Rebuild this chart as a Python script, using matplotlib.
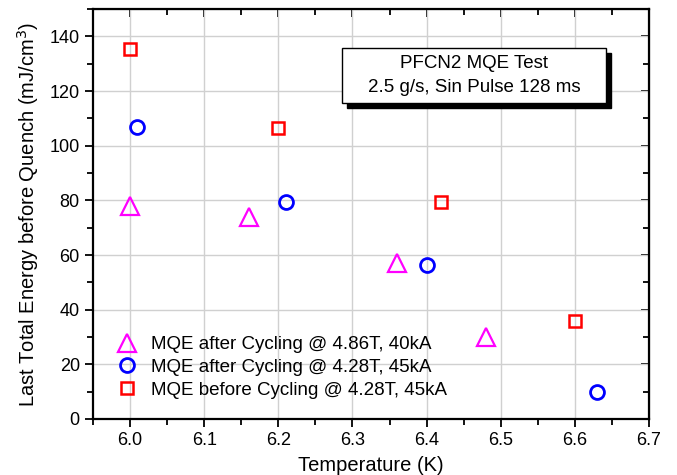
import matplotlib
matplotlib.use("Agg")
import matplotlib.pyplot as plt
from matplotlib.ticker import MultipleLocator
from matplotlib.patches import Rectangle

plt.rcParams['font.family'] = ['Liberation Sans', 'DejaVu Sans']

# Data
t_after_486 = [6.00, 6.16, 6.36, 6.48]
e_after_486 = [78, 74, 57, 30]
t_after_428 = [6.01, 6.21, 6.40, 6.63]
e_after_428 = [107, 79.5, 56.5, 10]
t_before_428 = [6.00, 6.20, 6.42, 6.60]
e_before_428 = [135.5, 106.5, 79.5, 36]

labels = ["MQE after Cycling @ 4.86T, 40kA",
          "MQE after Cycling @ 4.28T, 45kA",
          "MQE before Cycling @ 4.28T, 45kA"]
xticks = [6.0, 6.1, 6.2, 6.3, 6.4, 6.5, 6.6, 6.7]
xticklabels = ["6.0", "6.1", "6.2", "6.3", "6.4", "6.5", "6.6", "6.7"]
yticks = [0, 20, 40, 60, 80, 100, 120, 140]

fig = plt.figure(figsize=(6.77, 4.75), dpi=100)
ax = fig.add_axes([0.1374, 0.1179, 0.9586 - 0.1374, 0.981 - 0.1179])

ax.plot(t_after_486, e_after_486, linestyle='none', marker='^', ms=13,
        mfc='none', mec='#ff00ff', mew=1.6, label=labels[0])
ax.plot(t_after_428, e_after_428, linestyle='none', marker='o', ms=10,
        mfc='none', mec='#0000ff', mew=2.0, label=labels[1])
ax.plot(t_before_428, e_before_428, linestyle='none', marker='s', ms=9,
        mfc='none', mec='#ff0000', mew=1.8, label=labels[2])

ax.set_xlim(5.95, 6.7)
ax.set_ylim(0, 150)
ax.set_xticks(xticks)
ax.set_xticklabels(xticklabels)
ax.xaxis.set_minor_locator(MultipleLocator(0.05))
ax.set_yticks(yticks)
ax.yaxis.set_minor_locator(MultipleLocator(10))

ax.grid(True, which='major', color='#d0d0d0', linewidth=1.0)
ax.set_axisbelow(True)

for s in ax.spines.values():
    s.set_linewidth(1.6)
    s.set_color('black')

ax.tick_params(which='both', direction='out', labelsize=13, width=1.3)
ax.tick_params(which='major', length=6)
ax.tick_params(which='minor', length=4)

# inward ticks on top and right, no labels
axt = ax.secondary_xaxis('top')
axt.set_xticks(xticks)
axt.xaxis.set_minor_locator(MultipleLocator(0.05))
axt.tick_params(which='both', direction='in', labeltop=False, width=1.3)
axt.tick_params(which='major', length=6)
axt.tick_params(which='minor', length=4)
axr = ax.secondary_yaxis('right')
axr.set_yticks(yticks)
axr.yaxis.set_minor_locator(MultipleLocator(10))
axr.tick_params(which='both', direction='in', labelright=False, width=1.3)
axr.tick_params(which='major', length=6)
axr.tick_params(which='minor', length=4)

ax.set_xlabel("Temperature (K)", fontsize=14.5, labelpad=5)
ax.set_ylabel("Last Total Energy before Quench (mJ/cm$^3$)", fontsize=14.5, labelpad=6)

leg = ax.legend(loc='lower left', bbox_to_anchor=(0.0, -0.01), frameon=False,
                fontsize=13.5, handlelength=1.0, handletextpad=0.8,
                labelspacing=0.3, borderaxespad=0.5, borderpad=0.8)

# text box with shadow
bx0, by0, bx1, by1 = 342, 48, 606, 103
W, H = 677, 475
shadow = Rectangle(((bx0 + 5) / W, 1 - (by1 + 5) / H), (bx1 - bx0) / W, (by1 - by0) / H,
                   transform=fig.transFigure, facecolor='black', edgecolor='black', zorder=10)
box = Rectangle((bx0 / W, 1 - by1 / H), (bx1 - bx0) / W, (by1 - by0) / H,
                transform=fig.transFigure, facecolor='white', edgecolor='black',
                linewidth=1.0, zorder=11)
fig.add_artist(shadow)
fig.add_artist(box)
fig.text((bx0 + bx1) / 2 / W, 1 - 63 / H, "PFCN2 MQE Test", ha='center', va='center',
         fontsize=13.5, zorder=12)
fig.text((bx0 + bx1) / 2 / W, 1 - 88 / H, "2.5 g/s, Sin Pulse 128 ms", ha='center', va='center',
         fontsize=13.5, zorder=12)

fig.savefig("out.png", dpi=100)
